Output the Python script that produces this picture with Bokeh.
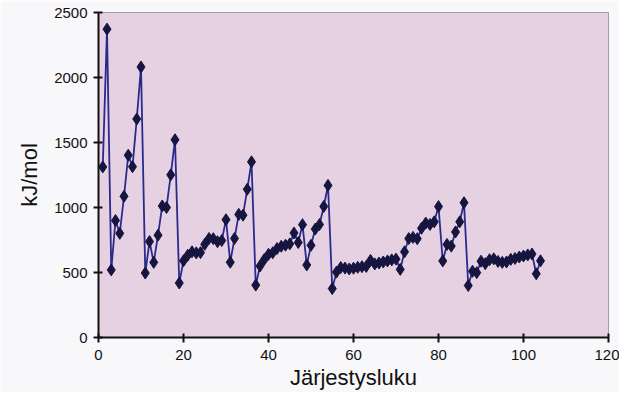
from bokeh.plotting import figure
from bokeh.embed import file_html
from bokeh.resources import INLINE
from bokeh.models import FixedTicker, ColumnDataSource

atomic_number = list(range(1, 105))
ionization_energy = [
    1312, 2372, 520, 900, 801, 1086, 1402, 1314, 1681, 2081,
    496, 738, 578, 787, 1012, 1000, 1251, 1521, 419, 590,
    633, 659, 651, 653, 717, 762, 760, 737, 746, 906,
    579, 762, 947, 941, 1140, 1351, 403, 550, 600, 640,
    652, 684, 702, 710, 720, 804, 731, 868, 558, 709,
    834, 869, 1008, 1170, 376, 503, 538, 534, 527, 533,
    540, 545, 547, 593, 566, 573, 581, 589, 597, 603,
    524, 659, 761, 770, 760, 840, 880, 870, 890, 1007,
    589, 716, 703, 812, 890, 1037, 400, 509, 499, 587,
    568, 598, 605, 585, 578, 581, 601, 608, 619, 627,
    635, 642, 490, 590,
]
x_ticks = [0, 20, 40, 60, 80, 100, 120]
y_ticks = [0, 500, 1000, 1500, 2000, 2500]

src = ColumnDataSource(dict(x=atomic_number, y=ionization_energy))

p = figure(width=619, height=392, output_backend="svg", toolbar_location=None,
           x_range=(0, 120), y_range=(0, 2500),
           min_border_left=98, min_border_right=11, min_border_top=12, min_border_bottom=51)
p.background_fill_color = "#e5d1e2"
p.border_fill_color = "#f8f7fa"
p.outline_line_color = "#a898a8"
p.outline_line_width = 1
p.grid.visible = False

p.line("x", "y", source=src, line_color="#2a2a8c", line_width=1.8)
p.scatter("x", "y", source=src, marker="diamond", size=12, fill_color="#15153f",
          line_color="#15153f")

for ax, ticks in ((p.xaxis, x_ticks), (p.yaxis, y_ticks)):
    ax.ticker = FixedTicker(ticks=ticks)
    ax.axis_line_color = "#111111"
    ax.axis_line_width = 2
    ax.major_tick_line_color = "#111111"
    ax.major_tick_line_width = 2
    ax.major_tick_in = 4
    ax.major_tick_out = 5
    ax.minor_tick_line_color = None
    ax.major_label_text_font = "Liberation Sans"
    ax.major_label_text_font_size = "15px"
    ax.major_label_text_color = "#111111"
    ax.axis_label_text_font = "Liberation Sans"
    ax.axis_label_text_font_size = "22px"
    ax.axis_label_text_font_style = "normal"
    ax.axis_label_text_color = "#111111"

p.xaxis.axis_label = "Järjestysluku"
p.yaxis.axis_label = "kJ/mol"
p.xaxis.major_label_standoff = 7
p.yaxis.major_label_standoff = 6
p.xaxis.axis_label_standoff = 2
p.yaxis.axis_label_standoff = 9

open("out.html", "w").write(file_html(p, INLINE))
